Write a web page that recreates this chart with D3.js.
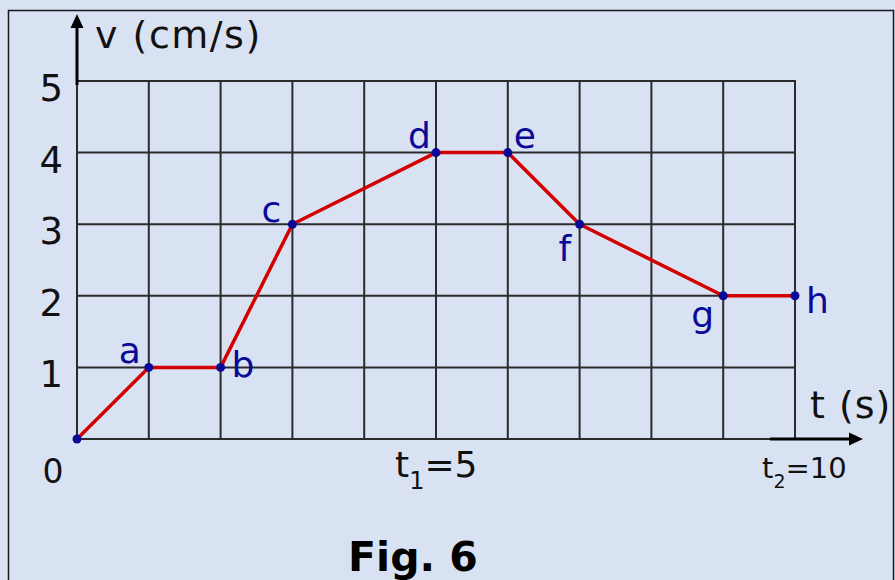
<!DOCTYPE html>
<html lang="en">
<head>
    <meta charset="UTF-8">
    <title>Fig. 6</title>
    <script src="https://d3js.org/d3.v7.min.js"></script>
    <style>
        html, body { margin: 0; padding: 0; background: #d9e2f3; }
        svg { display: block; font-family: "DejaVu Sans", Verdana, sans-serif; }
    </style>
</head>
<body>
    <div id="chart"></div>
    <script>
        // Data
        const tValues = [0, 1, 2, 3, 5, 6, 7, 9, 10];       // time (s)
        const vValues = [0, 1, 1, 3, 4, 4, 3, 2, 2];        // velocity (cm/s)
        const pointNames = ["", "a", "b", "c", "d", "e", "f", "g", "h"];
        const yTickValues = [1, 2, 3, 4, 5];
        const xGridValues = d3.range(0, 11);

        // Layout
        const width = 895, height = 580;
        const bg = "#d9e2f3";
        const gridColor = "#2b2b2b";
        const lineColor = "#d40000";
        const dotColor = "#0a0a96";

        // label offsets (dx to text start, dy to baseline) per point name
        const labelOffset = {
            a: [-30, -4], b: [11, 10], c: [-31, -2], d: [-28, -5],
            e: [6, -5], f: [-21, 37], g: [-32, 31], h: [11, 17]
        };

        const svg = d3.select("#chart")
            .append("svg")
            .attr("width", width)
            .attr("height", height);

        svg.append("rect")
            .attr("width", width).attr("height", height)
            .attr("fill", bg);

        // outer frame
        svg.append("rect")
            .attr("x", 8.5).attr("y", 10.5)
            .attr("width", 885).attr("height", 600)
            .attr("fill", "none")
            .attr("stroke", "#1a1a1a")
            .attr("stroke-width", 1.5);

        const x = d3.scaleLinear().domain([0, 10]).range([77, 795]);
        const y = d3.scaleLinear().domain([0, 5]).range([439, 81]);

        // grid
        const grid = svg.append("g").attr("stroke", gridColor).attr("stroke-width", 2);
        grid.selectAll("line.v")
            .data(xGridValues)
            .join("line")
            .attr("class", "v")
            .attr("x1", d => x(d)).attr("x2", d => x(d))
            .attr("y1", y(5) - 1).attr("y2", y(0) + 1);
        grid.selectAll("line.h")
            .data([0].concat(yTickValues))
            .join("line")
            .attr("class", "h")
            .attr("x1", x(0)).attr("x2", x(10) + 1)
            .attr("y1", d => y(d)).attr("y2", d => y(d));

        // arrows
        svg.append("line")
            .attr("x1", x(0)).attr("x2", x(0))
            .attr("y1", y(5) + 4).attr("y2", 26)
            .attr("stroke", "#000").attr("stroke-width", 3);
        svg.append("path")
            .attr("d", `M${x(0)},14 L${x(0) - 6.5},28 L${x(0) + 6.5},28 Z`)
            .attr("fill", "#000");

        svg.append("line")
            .attr("x1", 770).attr("x2", 852)
            .attr("y1", y(0)).attr("y2", y(0))
            .attr("stroke", "#000").attr("stroke-width", 3);
        svg.append("path")
            .attr("d", `M863,${y(0)} L849,${y(0) - 6.5} L849,${y(0) + 6.5} Z`)
            .attr("fill", "#000");

        // y tick labels
        svg.append("g")
            .selectAll("text")
            .data(yTickValues)
            .join("text")
            .attr("x", 63)
            .attr("y", d => y(d) + 20)
            .attr("text-anchor", "end")
            .attr("font-size", 37)
            .attr("fill", "#111")
            .text(d => d);

        svg.append("text")
            .attr("x", 53).attr("y", 483)
            .attr("text-anchor", "middle")
            .attr("font-size", 33)
            .attr("fill", "#111")
            .text("0");

        // axis titles
        svg.append("text")
            .attr("x", 95).attr("y", 48)
            .attr("font-size", 38)
            .attr("letter-spacing", 1.5)
            .attr("fill", "#111")
            .text("v (cm/s)");

        svg.append("text")
            .attr("x", 810).attr("y", 418)
            .attr("font-size", 38)
            .attr("letter-spacing", 1)
            .attr("fill", "#111")
            .text("t (s)");

        // t1 and t2 labels
        const t1 = svg.append("text")
            .attr("x", 395).attr("y", 477)
            .attr("font-size", 36)
            .attr("fill", "#111");
        t1.append("tspan").text("t");
        t1.append("tspan").attr("font-size", 24).attr("dy", 12).text("1");
        t1.append("tspan").attr("dy", -12).text("=5");

        const t2 = svg.append("text")
            .attr("x", 762).attr("y", 478)
            .attr("font-size", 29)
            .attr("fill", "#111");
        t2.append("tspan").text("t");
        t2.append("tspan").attr("font-size", 19).attr("dy", 10).text("2");
        t2.append("tspan").attr("dy", -10).text("=10");

        // data line
        const pts = tValues.map((t, i) => ({ t, v: vValues[i], name: pointNames[i] }));
        const line = d3.line().x(d => x(d.t)).y(d => y(d.v));

        svg.append("path")
            .datum(pts)
            .attr("fill", "none")
            .attr("stroke", lineColor)
            .attr("stroke-width", 3.5)
            .attr("stroke-linejoin", "round")
            .attr("d", line);

        svg.append("g")
            .selectAll("circle")
            .data(pts)
            .join("circle")
            .attr("cx", d => x(d.t))
            .attr("cy", d => y(d.v))
            .attr("r", 4.5)
            .attr("fill", dotColor);

        svg.append("g")
            .selectAll("text")
            .data(pts.filter(d => d.name))
            .join("text")
            .attr("x", d => x(d.t) + labelOffset[d.name][0])
            .attr("y", d => y(d.v) + labelOffset[d.name][1])
            .attr("font-size", 36)
            .attr("fill", "#0a0a96")
            .text(d => d.name);

        // caption
        svg.append("text")
            .attr("x", 413).attr("y", 571)
            .attr("text-anchor", "middle")
            .attr("font-size", 41)
            .attr("font-weight", "bold")
            .attr("fill", "#000")
            .text("Fig. 6");
    </script>
</body>
</html>
